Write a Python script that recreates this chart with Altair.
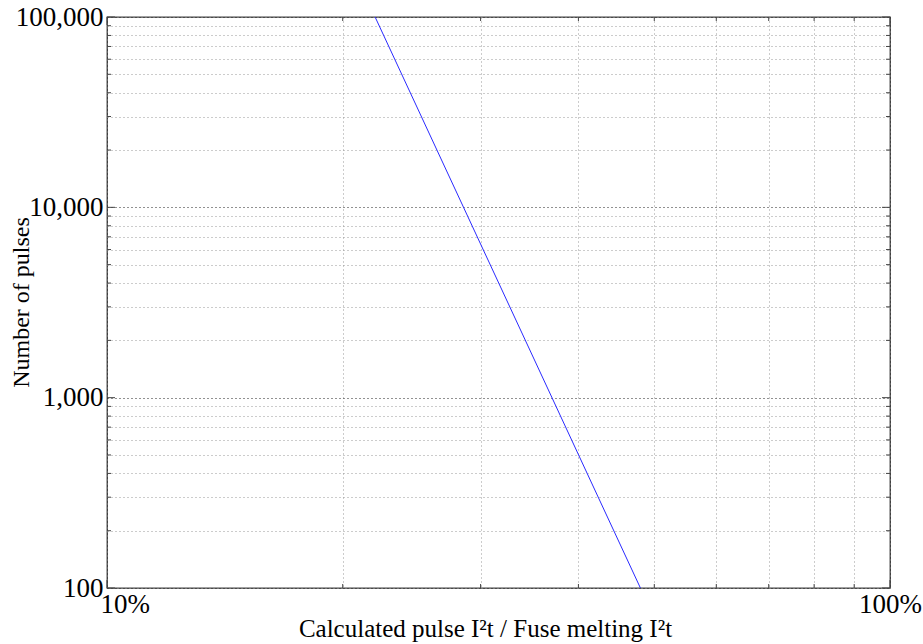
import altair as alt
import pandas as pd

# Curve endpoints
ratio = [0.22, 0.48]
pulses = [100000, 100]

# Grid / tick positions
x_major = [0.1, 1.0]
x_minor = [0.2, 0.3, 0.4, 0.5, 0.6, 0.7, 0.8, 0.9]
y_major = [100, 1000, 10000, 100000]
y_minor = [200, 300, 400, 500, 600, 700, 800, 900,
           2000, 3000, 4000, 5000, 6000, 7000, 8000, 9000,
           20000, 30000, 40000, 50000, 60000, 70000, 80000, 90000]

W, H = 783, 571
FONT = "Liberation Serif"

xscale = alt.Scale(type="log", domain=[0.1, 1.0], nice=False)
yscale = alt.Scale(type="log", domain=[100, 100000], nice=False)

is_y_major = "indexof([100,1000,10000,100000], datum.value) >= 0"
is_x_major = "(abs(datum.value - 0.1) < 1e-9) || (abs(datum.value - 1) < 1e-9)"

line_df = pd.DataFrame({"ratio": ratio, "pulses": pulses})

base_line = alt.Chart(line_df).mark_line(color="#2a2aff", strokeWidth=1, clip=True).encode(
    x=alt.X("ratio:Q", scale=xscale,
            axis=alt.Axis(values=x_major + x_minor,
                          labelExpr=f"{is_x_major} ? format(datum.value, '.0%') : ''",
                          grid=True, ticks=False, domain=False,
                          gridDash=[1, 3],
                          gridColor={"condition": {"test": is_x_major, "value": "#222222"}, "value": "#999999"},
                          labelFont=FONT, labelFontSize=27, labelColor="black",
                          labelPadding=3, labelFlush=False,
                          labelAlign={"expr": "datum.value < 0.5 ? 'left' : 'center'"},
                          labelOffset={"expr": "datum.value < 0.5 ? -7 : 0"},
                          title="Calculated pulse I²t / Fuse melting I²t",
                          titleFont=FONT, titleFontSize=25, titleFontWeight="normal",
                          titleColor="black", titleX=378, titleY=40,
                          titleBaseline="middle", titleAlign="center")),
    y=alt.Y("pulses:Q", scale=yscale,
            axis=alt.Axis(values=y_major + y_minor,
                          labelExpr=f"{is_y_major} ? format(datum.value, ',') : ''",
                          grid=True, ticks=False, domain=False,
                          gridDash=[1, 3],
                          gridColor={"condition": {"test": is_y_major, "value": "#222222"}, "value": "#999999"},
                          labelFont=FONT, labelFontSize=27, labelColor="black",
                          labelPadding=4, labelFlush=False,
                          title="Number of pulses",
                          titleFont=FONT, titleFontSize=24, titleFontWeight="normal",
                          titleColor="black", titleX=-86, titleY=285, titleAngle=-90,
                          titleBaseline="middle", titleAlign="center")),
)

layers = [base_line]


def xticks(vals, length):
    df = pd.DataFrame({"v": vals})
    bottom = alt.Chart(df).mark_rule(color="#444444", strokeWidth=1).encode(
        x=alt.X("v:Q", scale=xscale), y=alt.value(H), y2=alt.value(H - length))
    top = alt.Chart(df).mark_rule(color="#444444", strokeWidth=1).encode(
        x=alt.X("v:Q", scale=xscale), y=alt.value(0), y2=alt.value(length))
    return [bottom, top]


def yticks(vals, length):
    df = pd.DataFrame({"v": vals})
    left = alt.Chart(df).mark_rule(color="#444444", strokeWidth=1).encode(
        y=alt.Y("v:Q", scale=yscale), x=alt.value(0), x2=alt.value(length))
    right = alt.Chart(df).mark_rule(color="#444444", strokeWidth=1).encode(
        y=alt.Y("v:Q", scale=yscale), x=alt.value(W), x2=alt.value(W - length))
    return [left, right]


layers += xticks(x_minor, 4) + xticks(x_major, 8)
layers += yticks(y_minor, 4) + yticks(y_major, 8)

chart = alt.layer(*layers).resolve_axis(x="shared", y="shared").properties(
    width=W, height=H,
    autosize=alt.AutoSizeParams(type="none"),
    padding={"left": 107, "top": 17, "right": 33, "bottom": 56},
    background="white",
).configure_view(stroke="#444444", strokeWidth=1.3)

chart.save("out.html", embed_options={"renderer": "svg", "actions": False})
